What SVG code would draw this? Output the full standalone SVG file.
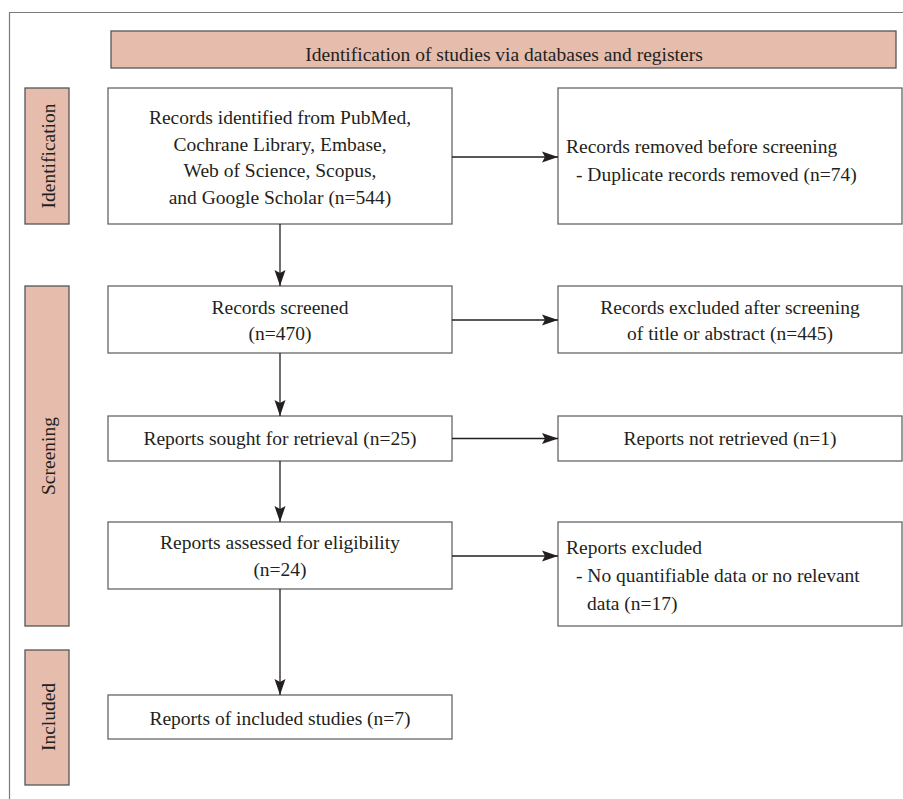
<svg xmlns="http://www.w3.org/2000/svg" width="903" height="799" viewBox="0 0 903 799">
<style>
  .frame { fill: none; stroke: #7a7a7a; stroke-width: 1.2; }
  .box { fill: #ffffff; stroke: #666666; stroke-width: 1.3; }
  .band { fill: #e6bcac; stroke: #555555; stroke-width: 1.3; }
  .t { font-family: "Liberation Serif", "Times New Roman", serif; font-size: 19.5px; fill: #231f20; }
  .c { text-anchor: middle; }
  .conn { fill: none; stroke: #231f20; stroke-width: 1.3; }
</style>
<defs>
  <marker id="ah" markerUnits="userSpaceOnUse" markerWidth="17" markerHeight="12" refX="16" refY="6" orient="auto">
    <path d="M0,0.5 L16,6 L0,11.5 L3,6 Z" fill="#231f20"/>
  </marker>
</defs>
<rect width="903" height="799" fill="#ffffff"/>
<path class="frame" d="M9.5,799 L9.5,12.5 L903,12.5"/>

<g id="header">
  <rect class="band" x="111" y="31" width="785" height="37"/>
  <text class="t c" x="504" y="60.5">Identification of studies via databases and registers</text>
</g>

<g id="label-identification">
  <rect class="band" x="25" y="88" width="44" height="136"/>
  <text class="t c" transform="translate(47,156) rotate(-90)" y="7.5">Identification</text>
</g>
<g id="label-screening">
  <rect class="band" x="25" y="286" width="44" height="340"/>
  <text class="t c" transform="translate(47,456) rotate(-90)" y="7.5">Screening</text>
</g>
<g id="label-included">
  <rect class="band" x="25" y="650" width="44" height="135"/>
  <text class="t c" transform="translate(47,717) rotate(-90)" y="7.5">Included</text>
</g>

<g id="records-identified">
  <rect class="box" x="108" y="88" width="344" height="136"/>
  <text class="t c" x="280" y="124">Records identified from PubMed,</text>
  <text class="t c" x="280" y="150.5">Cochrane Library, Embase,</text>
  <text class="t c" x="280" y="177">Web of Science, Scopus,</text>
  <text class="t c" x="280" y="203.5">and Google Scholar (n=544)</text>
</g>
<g id="records-removed">
  <rect class="box" x="558" y="88" width="344" height="136"/>
  <text class="t" x="566" y="152.5">Records removed before screening</text>
  <text class="t" x="576" y="180.5">- Duplicate records removed (n=74)</text>
</g>

<g id="records-screened">
  <rect class="box" x="108" y="286" width="344" height="67"/>
  <text class="t c" x="280" y="313.5">Records screened</text>
  <text class="t c" x="280" y="340">(n=470)</text>
</g>
<g id="records-excluded">
  <rect class="box" x="558" y="286" width="344" height="67"/>
  <text class="t c" x="730" y="313.5">Records excluded after screening</text>
  <text class="t c" x="730" y="340">of title or abstract (n=445)</text>
</g>

<g id="reports-sought">
  <rect class="box" x="108" y="416" width="344" height="45"/>
  <text class="t c" x="280" y="445">Reports sought for retrieval (n=25)</text>
</g>
<g id="reports-not-retrieved">
  <rect class="box" x="558" y="416" width="344" height="45"/>
  <text class="t c" x="730" y="445">Reports not retrieved (n=1)</text>
</g>

<g id="reports-assessed">
  <rect class="box" x="108" y="522" width="344" height="67"/>
  <text class="t c" x="280" y="549">Reports assessed for eligibility</text>
  <text class="t c" x="280" y="576">(n=24)</text>
</g>
<g id="reports-excluded">
  <rect class="box" x="558" y="522" width="344" height="104"/>
  <text class="t" x="566" y="554">Reports excluded</text>
  <text class="t" x="576" y="582">- No quantifiable data or no relevant</text>
  <text class="t" x="587" y="610">data (n=17)</text>
</g>

<g id="reports-included">
  <rect class="box" x="108" y="695" width="344" height="44"/>
  <text class="t c" x="280" y="724.5">Reports of included studies (n=7)</text>
</g>

<g id="connectors">
  <line class="conn" x1="452" y1="157" x2="558" y2="157" marker-end="url(#ah)"/>
  <line class="conn" x1="452" y1="320" x2="558" y2="320" marker-end="url(#ah)"/>
  <line class="conn" x1="452" y1="438.5" x2="558" y2="438.5" marker-end="url(#ah)"/>
  <line class="conn" x1="452" y1="556" x2="558" y2="556" marker-end="url(#ah)"/>
  <line class="conn" x1="280" y1="224" x2="280" y2="286" marker-end="url(#ah)"/>
  <line class="conn" x1="280" y1="353" x2="280" y2="416" marker-end="url(#ah)"/>
  <line class="conn" x1="280" y1="461" x2="280" y2="522" marker-end="url(#ah)"/>
  <line class="conn" x1="280" y1="589" x2="280" y2="695" marker-end="url(#ah)"/>
</g>
</svg>
